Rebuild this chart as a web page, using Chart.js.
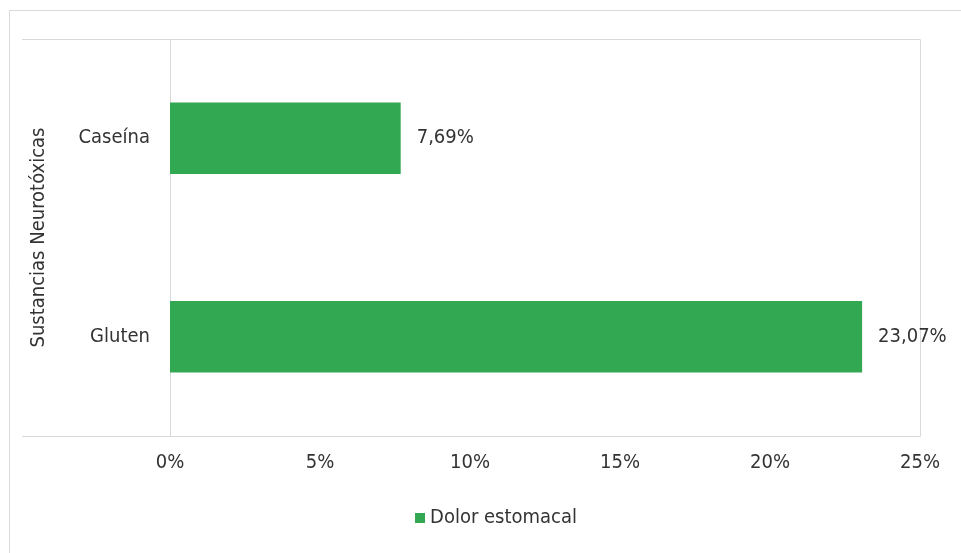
<!DOCTYPE html>
<html>
<head>
<meta charset="utf-8">
<script src="https://cdn.jsdelivr.net/npm/chart.js@4.4.1/dist/chart.umd.min.js"></script>
<style>
  html, body { margin: 0; padding: 0; background: #fff; }
  canvas { display: block; }
</style>
</head>
<body>
<canvas id="chart" width="961" height="553"></canvas>
<script>
// data
const categories = ["Caseína", "Gluten"];
const seriesName = "Dolor estomacal";
const values = [7.69, 23.07];
const xTicks = [0, 5, 10, 15, 20, 25];

// pick a narrow font if one is installed, else Arial-metric Liberation Sans
function hasFont(name) {
  const c = document.createElement("canvas").getContext("2d");
  const s = "mmmmmmmmmwwwlli0123";
  c.font = "72px monospace";
  const a = c.measureText(s).width;
  c.font = '72px "' + name + '", monospace';
  return c.measureText(s).width !== a;
}
let FONT = '"Liberation Sans", Arial, sans-serif';
let SIZE = 20;
if (hasFont("Liberation Sans Narrow")) { FONT = '"Liberation Sans Narrow", sans-serif'; SIZE = 23; }
else if (hasFont("DejaVu Sans Condensed")) { FONT = '"DejaVu Sans Condensed", sans-serif'; SIZE = 20; }

const TEXT = "#333333";
const LINE = "#d9d9d9";
const GREEN = "#33a852";

// lines around plot + outer frame
const framePlugin = {
  id: "frame",
  beforeDraw(chart) {
    const { ctx, chartArea: a } = chart;
    const t = Math.round(a.top) + 0.5, b = Math.round(a.bottom) + 0.5;
    const l = Math.round(a.left) + 0.5, r = Math.round(a.right) + 0.5;
    ctx.save();
    ctx.strokeStyle = LINE;
    ctx.lineWidth = 1;
    ctx.beginPath();
    // outer border (top + left visible)
    ctx.moveTo(9.5, 553); ctx.lineTo(9.5, 10.5); ctx.lineTo(961, 10.5);
    // top / bottom lines running under the labels
    ctx.moveTo(22, t); ctx.lineTo(r, t);
    ctx.moveTo(22, b); ctx.lineTo(r, b);
    // category axis + right edge
    ctx.moveTo(l, t); ctx.lineTo(l, b);
    ctx.moveTo(r, t); ctx.lineTo(r, b);
    ctx.stroke();
    ctx.restore();
  }
};

// value labels next to bars
const labelPlugin = {
  id: "valueLabels",
  afterDatasetsDraw(chart) {
    const { ctx } = chart;
    const meta = chart.getDatasetMeta(0);
    ctx.save();
    ctx.font = SIZE + "px " + FONT;
    ctx.fillStyle = TEXT;
    ctx.textAlign = "left";
    ctx.textBaseline = "middle";
    meta.data.forEach((bar, i) => {
      const txt = values[i].toFixed(2).replace(".", ",") + "%";
      ctx.fillText(txt, bar.x + 16, bar.y);
    });
    ctx.restore();
  }
};

// legend drawn by hand (built-in one centres on the plot, not the frame)
const legendPlugin = {
  id: "bottomLegend",
  afterDraw(chart) {
    const { ctx } = chart;
    const ds = chart.data.datasets[0];
    ctx.save();
    ctx.font = SIZE + "px " + FONT;
    const w = 10 + 5 + ctx.measureText(ds.label).width;
    const x0 = 496 - w / 2, cy = 518;
    ctx.fillStyle = ds.backgroundColor;
    ctx.fillRect(x0, cy - 5, 10, 10);
    ctx.fillStyle = TEXT;
    ctx.textAlign = "left";
    ctx.textBaseline = "middle";
    ctx.fillText(ds.label, x0 + 15, cy);
    ctx.restore();
  }
};

new Chart(document.getElementById("chart"), {
  type: "bar",
  data: {
    labels: categories,
    datasets: [{
      label: seriesName,
      data: values,
      backgroundColor: GREEN,
      borderWidth: 0,
      barPercentage: 0.36,
      categoryPercentage: 1
    }]
  },
  options: {
    indexAxis: "y",
    responsive: false,
    animation: false,
    layout: { padding: { left: 22, right: 41, top: 39, bottom: 55 } },
    scales: {
      x: {
        min: 0,
        max: 25,
        afterBuildTicks: s => { s.ticks = xTicks.map(v => ({ value: v })); },
        afterFit: s => { s.height = 62; },
        grid: { display: false, drawTicks: false },
        border: { display: false },
        ticks: {
          callback: v => v + "%",
          color: TEXT,
          padding: 15,
          maxRotation: 0,
          font: { family: FONT, size: SIZE }
        }
      },
      y: {
        afterFit: s => { s.width = 148; },
        grid: { display: false, drawTicks: false },
        border: { display: false },
        ticks: {
          color: TEXT,
          padding: 20,
          font: { family: FONT, size: SIZE }
        },
        title: {
          display: true,
          text: "Sustancias Neurotóxicas",
          color: TEXT,
          padding: { top: 5, bottom: 0 },
          font: { family: FONT, size: SIZE }
        }
      }
    },
    plugins: {
      tooltip: { enabled: false },
      legend: { display: false }
    }
  },
  plugins: [framePlugin, labelPlugin, legendPlugin]
});
</script>
</body>
</html>
